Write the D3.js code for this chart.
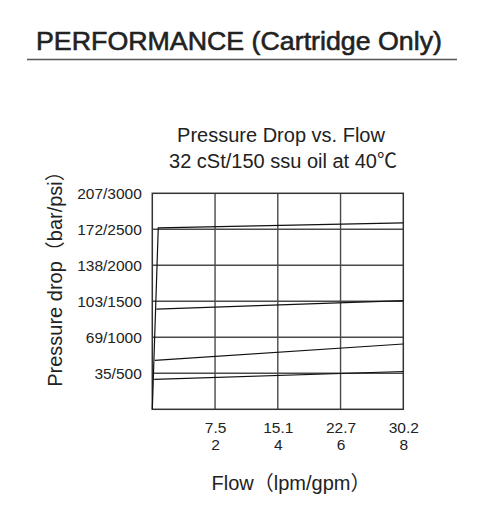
<!DOCTYPE html>
<html>
<head>
<meta charset="utf-8">
<script src="https://cdn.jsdelivr.net/npm/d3@7"></script>
<style>
  body { margin: 0; background: #fff; }
  text { font-family: "Liberation Sans", Arial, "Noto Sans CJK SC", sans-serif; fill: #222; }
</style>
</head>
<body>
<script>
const width = 478;
const height = 506;

// flow ticks (gpm) with matching lpm labels
const gpmTicks = [2, 4, 6, 8];
const lpmTicks = ["7.5", "15.1", "22.7", "30.2"];

// pressure ticks (psi) with bar/psi labels
const psiTicks = [500, 1000, 1500, 2000, 2500, 3000];
const psiLabels = ["35/500", "69/1000", "103/1500", "138/2000", "172/2500", "207/3000"];

// curves: flow in gpm, pressure drop in psi
const curve1Flow = [0, 0.19, 8];
const curve1Psi = [0, 2520, 2590];
const curve2Flow = [0.13, 8];
const curve2Psi = [1390, 1508];
const curve3Flow = [0.08, 8];
const curve3Psi = [680, 907];
const curve4Flow = [0.06, 8];
const curve4Psi = [417, 525];

const curves = [
  [curve1Flow, curve1Psi],
  [curve2Flow, curve2Psi],
  [curve3Flow, curve3Psi],
  [curve4Flow, curve4Psi]
].map(function(c) {
  return c[0].map(function(f, i) { return { gpm: f, psi: c[1][i] }; });
});

const plot = { left: 152.3, right: 403.3, top: 193.3, bottom: 409.3 };

const svg = d3.select("body")
  .append("svg")
  .attr("width", width)
  .attr("height", height);

// page header
svg.append("text")
  .attr("x", 36)
  .attr("y", 50)
  .attr("textLength", 406)
  .attr("lengthAdjust", "spacingAndGlyphs")
  .style("font-size", "26.5px")
  .style("stroke", "#222")
  .style("stroke-width", 0.6)
  .text("PERFORMANCE (Cartridge Only)");

svg.append("line")
  .attr("x1", 27).attr("x2", 457)
  .attr("y1", 59.5).attr("y2", 59.5)
  .attr("stroke", "#555")
  .attr("stroke-width", 1.5);

// chart title
svg.append("text")
  .attr("x", 281).attr("y", 141.5)
  .attr("text-anchor", "middle")
  .style("font-size", "20px")
  .text("Pressure Drop vs. Flow");

svg.append("text")
  .attr("x", 283).attr("y", 168)
  .attr("text-anchor", "middle")
  .style("font-size", "20px")
  .text("32 cSt/150 ssu oil at 40℃");

var x = d3.scaleLinear().domain([0, 8]).range([plot.left, plot.right]);
var y = d3.scaleLinear().domain([0, 3000]).range([plot.bottom, plot.top]);

// grid
var grid = svg.append("g").attr("stroke", "#4a4a4a").attr("stroke-width", 1.4);

grid.selectAll(".vg")
  .data(gpmTicks.slice(0, -1))
  .enter().append("line")
  .attr("x1", function(d) { return x(d); })
  .attr("x2", function(d) { return x(d); })
  .attr("y1", plot.top).attr("y2", plot.bottom);

grid.selectAll(".hg")
  .data(psiTicks.slice(0, -1))
  .enter().append("line")
  .attr("x1", plot.left).attr("x2", plot.right)
  .attr("y1", function(d) { return y(d); })
  .attr("y2", function(d) { return y(d); });

svg.append("rect")
  .attr("x", plot.left).attr("y", plot.top)
  .attr("width", plot.right - plot.left)
  .attr("height", plot.bottom - plot.top)
  .attr("fill", "none")
  .attr("stroke", "#333")
  .attr("stroke-width", 1.5);

// axes
var yAxis = svg.append("g")
  .attr("transform", "translate(" + plot.left + ",0)")
  .call(d3.axisLeft(y)
    .tickValues(psiTicks)
    .tickSize(0)
    .tickPadding(10.5)
    .tickFormat(function(d, i) { return psiLabels[i]; }));
yAxis.select(".domain").remove();
yAxis.selectAll("text")
  .attr("fill", "#222")
  .style("font-size", "15.5px")
  .style("font-family", "'Liberation Sans', Arial, sans-serif");

var xAxis = svg.append("g")
  .attr("transform", "translate(0," + plot.bottom + ")")
  .call(d3.axisBottom(x).tickValues(gpmTicks).tickSize(0).tickFormat(""));
xAxis.select(".domain").remove();
xAxis.selectAll(".tick text").remove();
xAxis.selectAll(".tick").each(function(d, i) {
  var t = d3.select(this).append("text")
    .attr("text-anchor", "middle")
    .attr("fill", "#222")
    .style("font-size", "15.5px");
  t.append("tspan").attr("x", 0).attr("y", 24).text(lpmTicks[i]);
  t.append("tspan").attr("x", 0).attr("y", 40.5).text(d);
});

// axis titles
svg.append("text")
  .attr("x", 291).attr("y", 490)
  .attr("text-anchor", "middle")
  .style("font-size", "20px")
  .text("Flow（lpm/gpm）");

svg.append("text")
  .attr("transform", "translate(62,274) rotate(-90)")
  .attr("text-anchor", "middle")
  .style("font-size", "20px")
  .text("Pressure drop（bar/psi）");

// curves
var line = d3.line()
  .x(function(d) { return x(d.gpm); })
  .y(function(d) { return y(d.psi); });

svg.selectAll(".curve")
  .data(curves)
  .enter().append("path")
  .attr("class", "curve")
  .attr("d", line)
  .attr("fill", "none")
  .attr("stroke", "#111")
  .attr("stroke-width", 1.2);
</script>
</body>
</html>
